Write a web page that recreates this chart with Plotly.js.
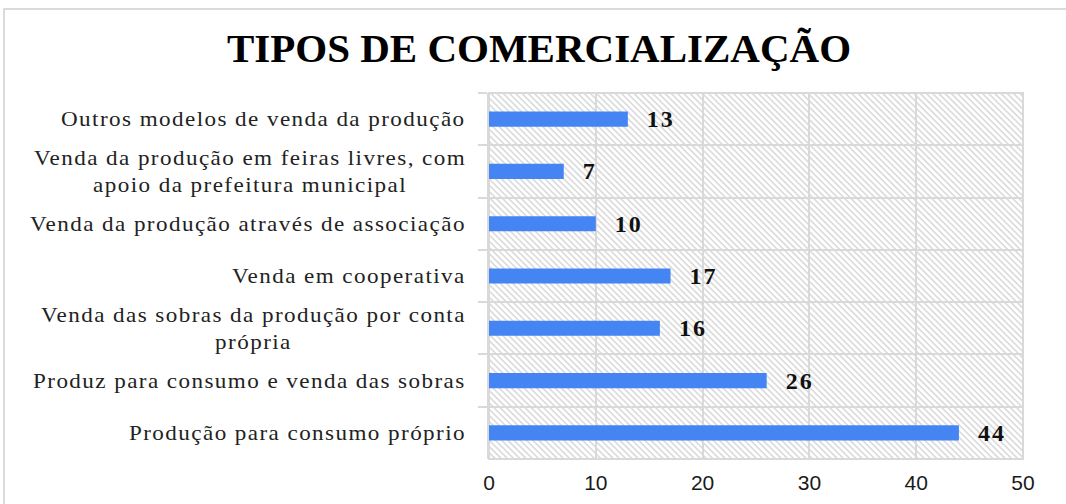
<!DOCTYPE html>
<html>
<head>
<meta charset="utf-8">
<script src="https://cdn.plot.ly/plotly-3.0.1.min.js"></script>
<style>
  html, body { margin: 0; padding: 0; background: #ffffff; }
  #frame { position: absolute; left: 3px; top: 8px; width: 1063px; height: 496px;
           border-left: 2px solid #dadada; border-top: 2px solid #dadada; box-sizing: border-box; }
  #chart { position: absolute; left: 0; top: 0; width: 1066px; height: 504px; }
  .annotation-text { letter-spacing: 1.3px; transform-box: fill-box; transform-origin: 100% 50%; transform: scaleX(1.10); }
  .bartext { letter-spacing: 2px; }
</style>
</head>
<body>
<div id="frame"></div>
<div id="chart"></div>
<script>
// Categories from top to bottom as drawn
const categories = [
  "Outros modelos de venda da produção",
  "Venda da produção em feiras livres, com<br>apoio da prefeitura municipal",
  "Venda da produção através de associação",
  "Venda em cooperativa",
  "Venda das sobras da produção por conta<br>própria",
  "Produz para consumo e venda das sobras",
  "Produção para consumo próprio"
];
const values = [13, 7, 10, 17, 16, 26, 44];
const xTicks = [0, 10, 20, 30, 40, 50];
const titleText = "TIPOS DE COMERCIALIZAÇÃO";

const W = 1066, H = 504;
const margin = { l: 489, r: 43, t: 93, b: 45 };
const pw = W - margin.l - margin.r, ph = H - margin.t - margin.b;

// hatch background
const svg = `<svg xmlns="http://www.w3.org/2000/svg" width="${pw}" height="${ph}" viewBox="0 0 ${pw} ${ph}" preserveAspectRatio="none">
<defs><pattern id="h" patternUnits="userSpaceOnUse" width="4.4" height="4.4" patternTransform="rotate(-45)">
<rect width="4.4" height="4.4" fill="#ffffff"/><line x1="1" y1="0" x2="1" y2="4.4" stroke="#d4d4d4" stroke-width="1.4"/></pattern></defs>
<rect width="${pw}" height="${ph}" fill="url(#h)"/></svg>`;
const hatch = "data:image/svg+xml;charset=utf-8," + encodeURIComponent(svg);

const ids = categories.map((c, i) => "c" + i);

const trace = {
  type: "bar",
  orientation: "h",
  x: values,
  y: ids,
  width: 0.29,
  marker: { color: "#4485f3" },
  text: values.map(v => "\u00a0\u00a0" + v),
  textposition: "outside",
  constraintext: "none",
  textfont: { family: "Liberation Serif", size: 24, color: "#111111", weight: "bold" },
  cliponaxis: false,
  hoverinfo: "x+y"
};

const annotations = categories.map((c, i) => ({
  xref: "paper", yref: "y",
  x: -21 / pw, y: ids[i],
  xanchor: "right", yanchor: "middle",
  align: "center",
  text: c,
  showarrow: false,
  font: { family: "Liberation Serif", size: 21, color: "#222222" }
}));

const layout = {
  width: W, height: H,
  margin: margin,
  paper_bgcolor: "rgba(0,0,0,0)",
  plot_bgcolor: "rgba(0,0,0,0)",
  showlegend: false,
  title: {
    text: "<b>" + titleText + "</b>",
    x: 539 / W, xref: "container", xanchor: "center",
    y: 1 - 48 / H, yref: "container", yanchor: "middle",
    font: { family: "Liberation Serif", size: 41, color: "#000000" }
  },
  xaxis: {
    range: [0, 50],
    tickvals: xTicks,
    ticktext: xTicks.map(String),
    showgrid: true, gridcolor: "#d9d9d9", gridwidth: 2,
    zeroline: false,
    showline: false,
    ticks: "",
    ticklabelstandoff: 9,
    tickfont: { family: "Liberation Sans", size: 21, color: "#1a1a1a" },
    fixedrange: true
  },
  yaxis: {
    type: "category",
    categoryorder: "array",
    categoryarray: ids,
    autorange: "reversed",
    tickson: "boundaries",
    ticks: "outside", ticklen: 9, tickcolor: "#d9d9d9", tickwidth: 2,
    showticklabels: false,
    showgrid: true, gridcolor: "#d9d9d9", gridwidth: 2,
    showline: true, linecolor: "#d9d9d9", linewidth: 2, mirror: false,
    zeroline: false,
    fixedrange: true
  },
  annotations: annotations,
  images: [{
    source: hatch, xref: "paper", yref: "paper",
    x: 0, y: 1, sizex: 1, sizey: 1, xanchor: "left", yanchor: "top",
    sizing: "stretch", layer: "below"
  }],
  shapes: [{
    type: "rect", xref: "paper", yref: "paper", x0: 0, x1: 1, y0: 0, y1: 1,
    line: { color: "#d9d9d9", width: 2 }, fillcolor: "rgba(0,0,0,0)", layer: "below"
  }]
};

Plotly.newPlot("chart", [trace], layout, { displayModeBar: false, staticPlot: true });
</script>
</body>
</html>
